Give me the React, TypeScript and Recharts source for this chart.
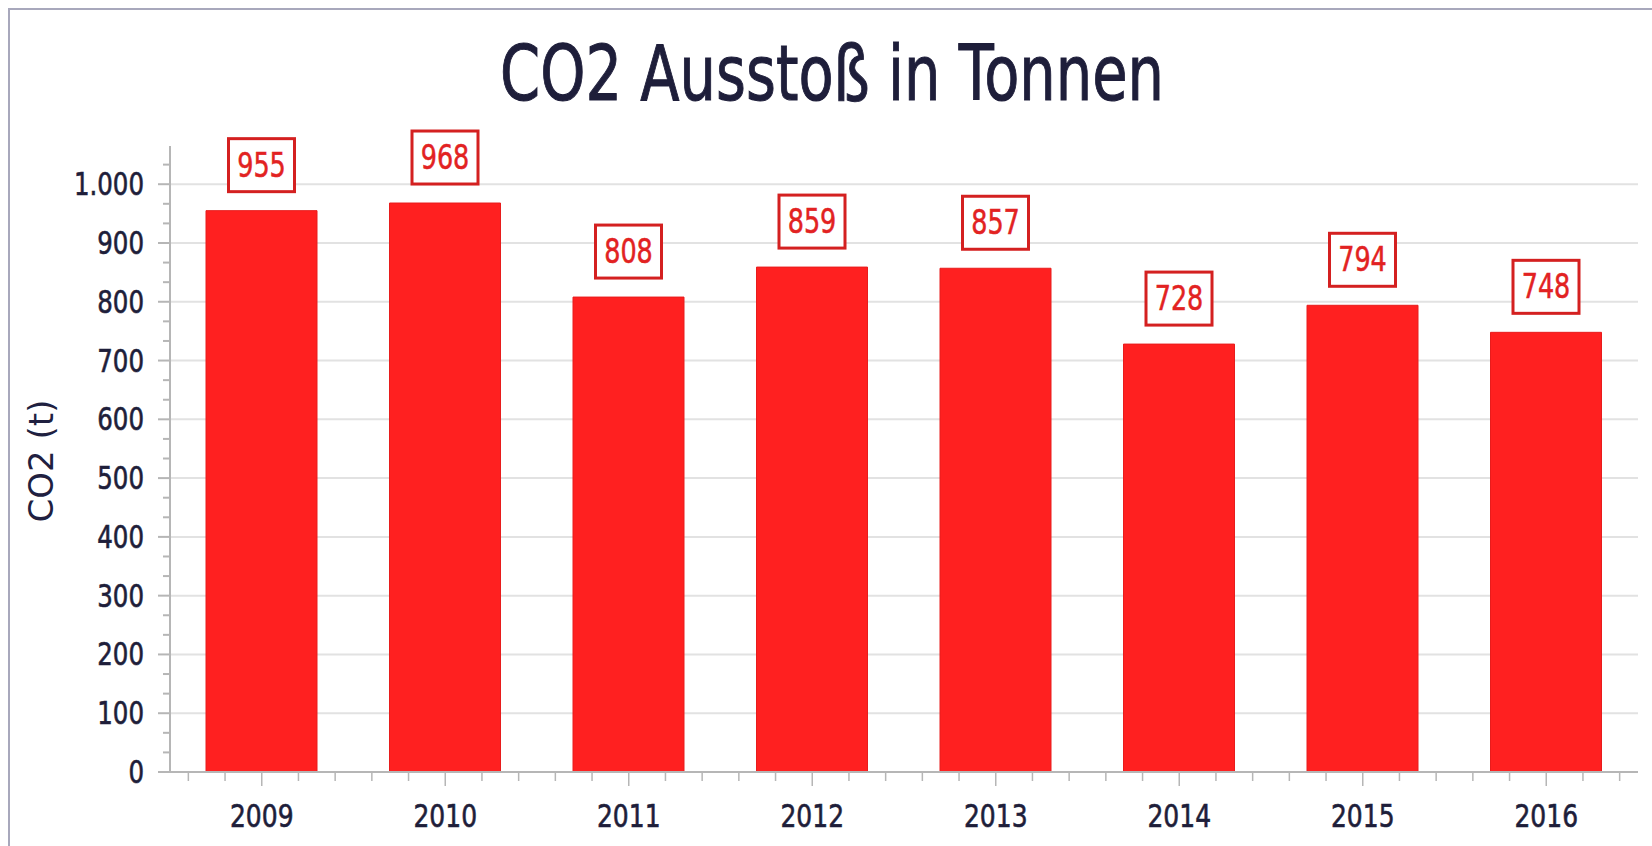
import React from 'react'
import { BarChart, Bar, XAxis, YAxis, CartesianGrid, LabelList } from 'recharts'

const title = 'CO2 Ausstoß in Tonnen'
const yAxisLabel = 'CO2 (t)'
const years = ['2009', '2010', '2011', '2012', '2013', '2014', '2015', '2016']
const co2 = [955, 968, 808, 859, 857, 728, 794, 748]
const yMajorTicks = [0, 100, 200, 300, 400, 500, 600, 700, 800, 900, 1000]
const yMax = 1065

const data = years.map((year, i) => ({ year, co2: co2[i] }))

// two minor ticks between each pair of labelled ticks
const yAllTicks: number[] = []
for (let k = 0; (k * 100) / 3 <= yMax; k++) yAllTicks.push((k * 100) / 3)

const W = 1652
const H = 846
const MARGIN = { top: 146, right: 14, bottom: 4, left: 10 }
const Y_AXIS_W = 160
const X_AXIS_H = 70
const PLOT_W = W - MARGIN.left - MARGIN.right - Y_AXIS_W

const FONT = '"DejaVu Sans", Verdana, sans-serif'
const TEXT = '#1e1e3a'
const AXIS = '#b6b6b6'
const BAR = '#ff2020'
const LABEL_RED = '#d42020'

const isMajor = (v: number) => Math.abs(v / 100 - Math.round(v / 100)) < 1e-6
const fmt = (v: number) => String(Math.round(v)).replace(/\B(?=(\d{3})+(?!\d))/g, '.')

// text drawn a bit taller than the font, like the original picture
const StretchText = ({ x, y, size, sy, anchor = 'middle', fill = TEXT, weight = 0.5, children }: any) => (
  <text
    transform={`translate(${x},${y}) scale(1,${sy})`}
    textAnchor={anchor}
    fontSize={size}
    fontFamily={FONT}
    fill={fill}
    stroke={fill}
    strokeWidth={weight}
  >
    {children}
  </text>
)

const XTick = (props: any) => {
  const { x, y, payload } = props
  const band = PLOT_W / years.length
  return (
    <g>
      <line x1={x} x2={x} y1={y} y2={y + 14} stroke={AXIS} strokeWidth={1.5} />
      {[-0.4, -0.2, 0.2, 0.4].map((o) => (
        <line key={o} x1={x + o * band} x2={x + o * band} y1={y} y2={y + 9} stroke={AXIS} strokeWidth={1.5} />
      ))}
      <StretchText x={x} y={y + 55} size={25} sy={1.28}>
        {payload.value}
      </StretchText>
    </g>
  )
}

const YTick = (props: any) => {
  const { x, y, payload } = props
  const major = isMajor(payload.value)
  return (
    <g>
      <line x1={x - (major ? 12 : 7)} x2={x} y1={y} y2={y} stroke={AXIS} strokeWidth={2} />
      {major && (
        <StretchText x={x - 26} y={y + 11} size={24.5} sy={1.28} anchor="end">
          {fmt(payload.value)}
        </StretchText>
      )}
    </g>
  )
}

const ValueBox = (props: any) => {
  const { x, y, width, value } = props
  const cx = x + width / 2
  const bottom = y - 19
  return (
    <g>
      <rect x={cx - 33} y={bottom - 53} width={66} height={53} fill="#fff" stroke={LABEL_RED} strokeWidth={3} />
      <StretchText x={cx} y={bottom - 15} size={25.5} sy={1.35} fill="#e22222" weight={0.4}>
        {value}
      </StretchText>
    </g>
  )
}

const YLabel = (props: any) => {
  const { viewBox } = props
  const cx = viewBox.x + 43
  const cy = viewBox.y + viewBox.height / 2 + 2
  return (
    <text
      transform={`translate(${cx},${cy}) rotate(-90)`}
      textAnchor="middle"
      fontSize={34}
      fontFamily={FONT}
      fill="#202040"
    >
      {yAxisLabel}
    </text>
  )
}

export default function App() {
  return (
    <div style={{ position: 'absolute', left: 0, top: 0, width: W, height: H, overflow: 'hidden', background: '#fff' }}>
      <div
        style={{
          position: 'absolute',
          left: 8,
          top: 8,
          width: W - 8,
          height: H - 8,
          boxSizing: 'border-box',
          borderLeft: '2px solid #a8a8bc',
          borderTop: '2px solid #a8a8bc',
        }}
      />
      <svg width={W} height={120} style={{ position: 'absolute', left: 0, top: 0 }}>
        <StretchText x={832} y={100} size={57.5} sy={1.33} weight={0.8}>
          {title}
        </StretchText>
      </svg>
      <div style={{ position: 'absolute', left: 0, top: 0 }}>
        <BarChart width={W} height={H} data={data} margin={MARGIN}>
          <CartesianGrid vertical={false} horizontalValues={yMajorTicks} stroke="#e2e2e2" strokeWidth={2} />
          <XAxis
            dataKey="year"
            height={X_AXIS_H}
            interval={0}
            tickSize={0}
            tickMargin={0}
            tickLine={false}
            axisLine={{ stroke: AXIS, strokeWidth: 2 }}
            tick={<XTick />}
          />
          <XAxis
            xAxisId="top"
            orientation="top"
            dataKey="year"
            height={0}
            tick={false}
            tickLine={false}
            axisLine={{ stroke: '#c2c2c2', strokeWidth: 2 }}
          />
          <YAxis
            type="number"
            domain={[0, yMax]}
            ticks={yAllTicks}
            interval={0}
            width={Y_AXIS_W}
            tickSize={0}
            tickMargin={0}
            tickLine={false}
            axisLine={{ stroke: AXIS, strokeWidth: 2 }}
            tick={<YTick />}
            label={<YLabel />}
          />
          <YAxis
            yAxisId="right"
            orientation="right"
            type="number"
            domain={[0, 1]}
            width={0}
            tick={false}
            tickLine={false}
            axisLine={{ stroke: '#c2c2c2', strokeWidth: 2 }}
          />
          <Bar dataKey="co2" fill={BAR} stroke="#e81c1c" strokeWidth={1} barSize={111} isAnimationActive={false}>
            <LabelList dataKey="co2" content={<ValueBox />} />
          </Bar>
        </BarChart>
      </div>
    </div>
  )
}
